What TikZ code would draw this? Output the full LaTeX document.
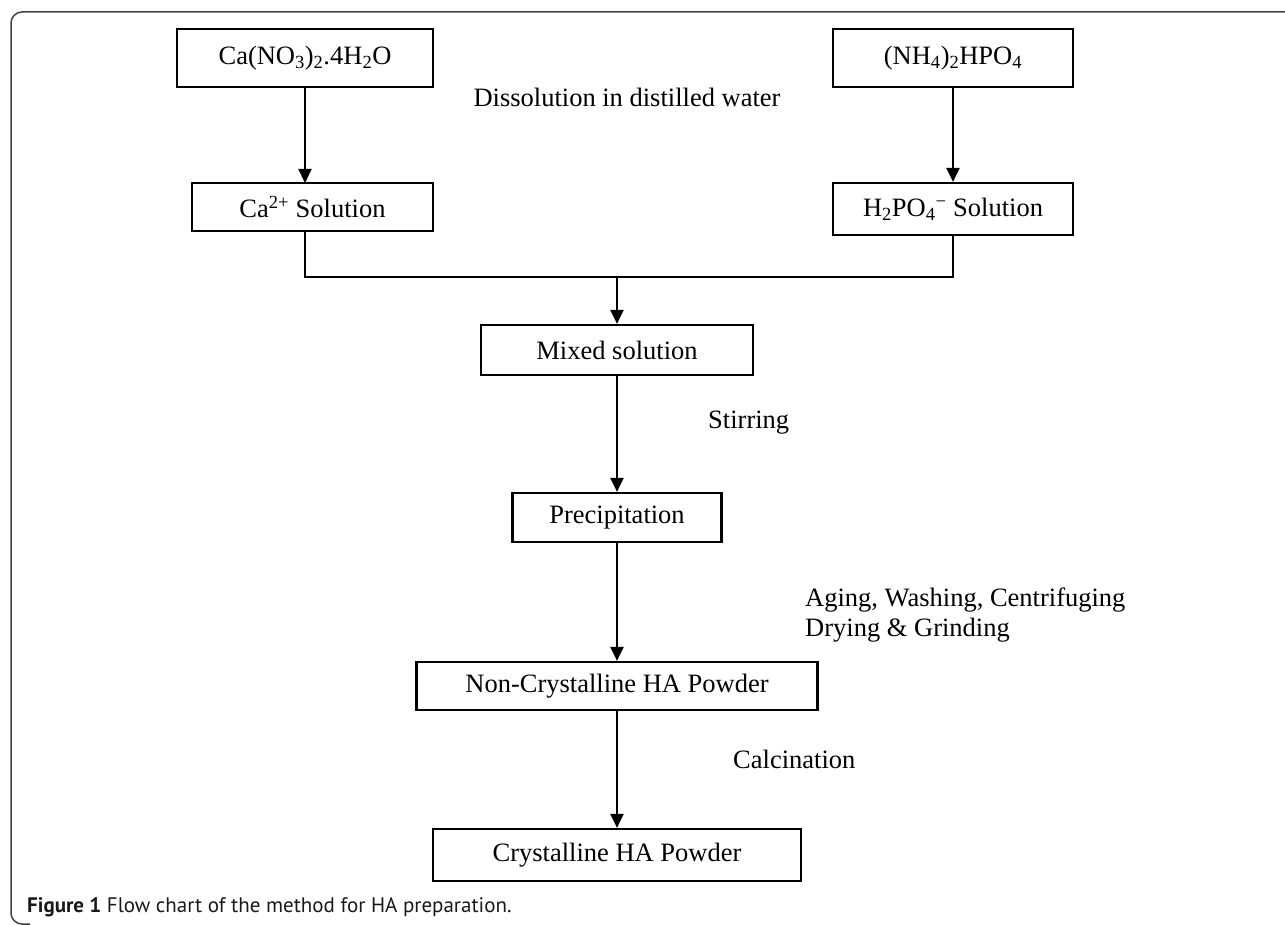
\documentclass[tikz,border=0pt]{standalone}
\usepackage{fontspec}
\setmainfont{Liberation Serif}
\newfontfamily\capfont{PT Sans}
\usetikzlibrary{arrows.meta}
\tikzset{
  flowbox/.style={draw=black, line width=2.2pt, inner sep=0pt, anchor=center,
    font=\fontsize{26.5}{30}\selectfont},
  link/.style={draw=black, line width=2.2pt},
  arrowlink/.style={link, -{Triangle[length=14pt,width=13pt]}},
  steplabel/.style={inner sep=0pt, anchor=west, align=left,
    font=\fontsize{26.5}{30}\selectfont}
}
\begin{document}
\begin{tikzpicture}[x=1pt,y=-1pt]
\useasboundingbox (0,0) rectangle (1285,925);
\clip (0,0) rectangle (1285,925);
% frame
\draw[draw=black!75, line width=1.5pt, rounded corners=11pt] (1300,12) -- (11,12) -- (11,924) -- (30,924);
% boxes
\node[flowbox, minimum width=256pt, minimum height=58pt] (A) at (305,58) {Ca(NO\textsubscript{3})\textsubscript{2}.4H\textsubscript{2}O};
\node[flowbox, minimum width=240pt, minimum height=58pt] (B) at (953,58) {(NH\textsubscript{4})\textsubscript{2}HPO\textsubscript{4}};
\node[flowbox, minimum width=241pt, minimum height=48pt] (C) at (312.5,207) {Ca\textsuperscript{2+} Solution};
\node[flowbox, minimum width=240pt, minimum height=52pt] (D) at (953,209) {H\textsubscript{2}PO\textsubscript{4}\textsuperscript{−} Solution};
\node[flowbox, minimum width=272pt, minimum height=50pt] (E) at (617,350) {Mixed solution};
\node[flowbox, minimum width=209pt, minimum height=49pt] (F) at (617,517.5) {Precipitation};
\node[flowbox, minimum width=401pt, minimum height=48pt] (G) at (617,686) {Non-Crystalline HA Powder};
\node[flowbox, minimum width=368pt, minimum height=52pt] (H) at (617,855) {Crystalline HA Powder};
% labels
\node[inner sep=0pt, anchor=center, font=\fontsize{26.5}{30}\selectfont] (L1) at (627,97) {Dissolution in distilled water};
\node[steplabel] (L2) at (708,423) {Stirring};
\node[steplabel] (L3) at (805,615) {Aging, Washing, Centrifuging\\Drying \& Grinding};
\node[steplabel] (L4) at (733,759) {Calcination};
% connectors
\coordinate (J1) at (305,277);
\coordinate (J2) at (953,277);
\coordinate (JM) at (617,277);
\draw[arrowlink] (305,87) -- (305,183);
\draw[arrowlink] (B.south) -- (D.north);
\draw[link] (C.south -| J1) -- (J1) -- (J2) -- (D.south);
\draw[arrowlink] (JM) -- (E.north);
\draw[arrowlink] (E.south) -- (F.north);
\draw[arrowlink] (F.south) -- (G.north);
\draw[arrowlink] (G.south) -- (H.north);
% caption
\node[inner sep=0pt, anchor=west, text=black!90, font=\capfont\fontsize{21}{25}\selectfont] (cap) at (27,907) {\textbf{Figure 1} Flow chart of the method for HA preparation.};
\end{tikzpicture}
\end{document}
